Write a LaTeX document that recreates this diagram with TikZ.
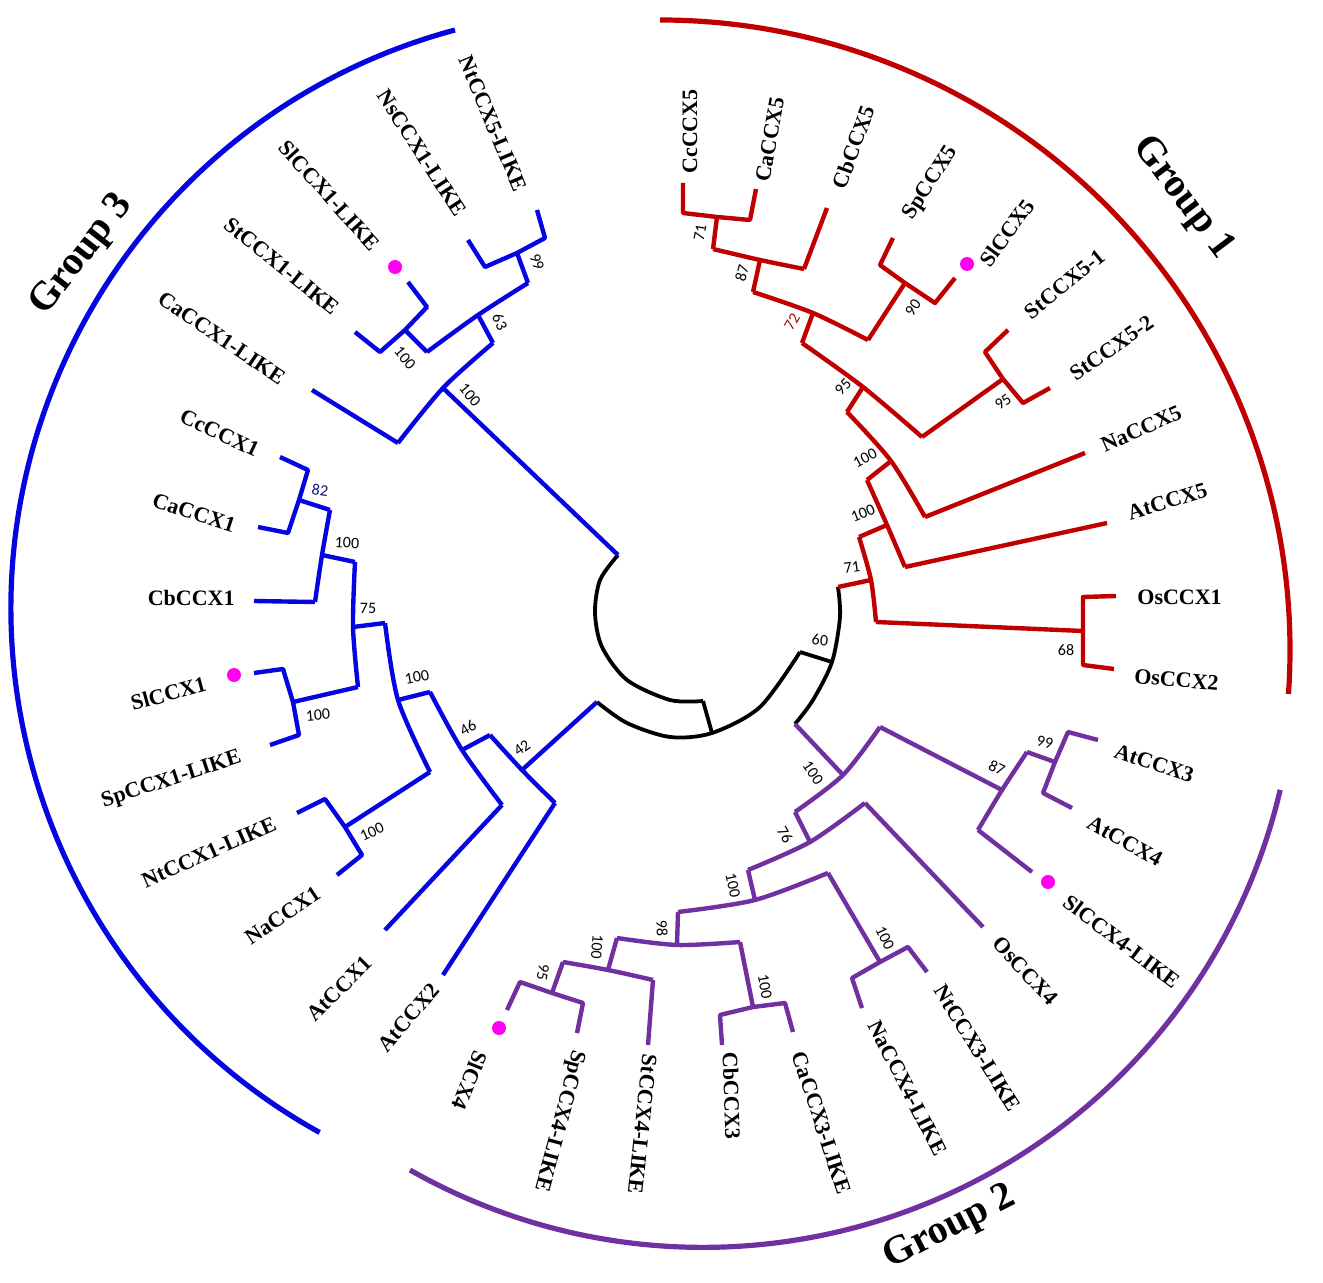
\documentclass[tikz,border=0pt]{standalone}
\usepackage{fontspec}
\setmainfont{Liberation Serif}
\newfontfamily\bootfont{Carlito}
\definecolor{cRed}{RGB}{192,0,0}
\definecolor{cBlue}{RGB}{5,5,225}
\definecolor{cPurple}{RGB}{112,48,160}
\definecolor{cPink}{RGB}{255,0,240}
\definecolor{cDarkRed}{RGB}{150,20,20}
\definecolor{cNavy}{RGB}{20,20,120}
\tikzset{
  branch/.style={line width=2.2pt, line join=round},
  rootbr/.style={branch, draw=black, line width=1.9pt},
  gone/.style={branch, draw=cRed},
  gtwo/.style={branch, draw=cPurple},
  gthree/.style={branch, draw=cBlue},
  grparc/.style={line width=2.6pt},
  tip/.style={inner sep=1pt, font=\fontsize{11}{13}\selectfont\bfseries},
  boot/.style={inner sep=0.5pt, font=\bootfont\fontsize{8}{9}\selectfont},
  grplabel/.style={inner sep=1pt, font=\fontsize{20}{24}\selectfont\bfseries},
  pinkdot/.style={circle, fill=cPink, inner sep=0pt, minimum size=7pt}
}
\begin{document}
\begin{tikzpicture}[x=0.5pt, y=-0.5pt]
\useasboundingbox (0,0) rectangle (1323,1283);

% centre of the tree
\coordinate (bTop) at (618,555);
\coordinate (bIn) at (703,701);
\coordinate (bLow) at (597,702);
\coordinate (bJoin) at (712,733);
\coordinate (bMid) at (800,652);
\coordinate (n60) at (832,662);
\coordinate (rRoot) at (838,587);
\coordinate (pRoot) at (795,724);
\draw[rootbr] plot[smooth] coordinates {(bTop) (600,580) (595,613) (602,647) (627,680) (670,700) (bIn)};
\draw[rootbr] (bIn) -- (bJoin);
\draw[rootbr] plot[smooth] coordinates {(bLow) (627,723) (670,737) (bJoin) (760,707) (bMid)};
\draw[rootbr] (bMid) -- (n60);
\draw[rootbr] plot[smooth] coordinates {(rRoot) (840,617) (n60) (813,700) (pRoot)};
\node[boot, rotate=-5] (s60) at (820,640) {60};

% Group 1
\coordinate (r71) at (871,580);   \coordinate (r71a) at (859,537);   \coordinate (r71b) at (876,622);
\coordinate (rOs) at (1083,631);  \coordinate (rOsa) at (1083,597);  \coordinate (rOsb) at (1083,665);
\coordinate (r100b) at (887,525); \coordinate (r100ba) at (867,480); \coordinate (r100bb) at (905,567);
\coordinate (r100a) at (891,461); \coordinate (r100aa) at (847,412); \coordinate (r100ab) at (925,517);
\coordinate (r95) at (863,387);   \coordinate (r95a) at (802,343);   \coordinate (r95b) at (922,437);
\coordinate (rSt) at (1003,379);  \coordinate (rSta) at (985,352);   \coordinate (rStb) at (1023,403);
\coordinate (r72) at (813,313);   \coordinate (r72a) at (753,292);   \coordinate (r72b) at (868,340);
\coordinate (r90) at (905,283);   \coordinate (r90a) at (880,265);   \coordinate (r90b) at (935,303);
\coordinate (r87) at (760,260);   \coordinate (r87a) at (713,249);   \coordinate (r87b) at (804,269);
\coordinate (r71c) at (717,217);  \coordinate (r71ca) at (683,213);  \coordinate (r71cb) at (750,220);
\coordinate (eOsCCX1) at (1116,596);  \coordinate (eOsCCX2) at (1114,669);
\coordinate (eAtCCX5) at (1107,523);  \coordinate (eNaCCX5) at (1085,453);
\coordinate (eStCCX5a) at (1008,330); \coordinate (eStCCX5b) at (1050,388);
\coordinate (eSpCCX5) at (893,238);   \coordinate (eSlCCX5) at (955,278);
\coordinate (eCbCCX5) at (827,208);
\coordinate (eCcCCX5) at (683,183);   \coordinate (eCaCCX5) at (756,189);

\draw[gone] (rRoot) -- (r71);
\draw[gone] plot[smooth] coordinates {(r71a) (r71) (r71b)};
\draw[gone] (r71b) -- (rOs);
\draw[gone] (eOsCCX1) -- (rOsa) -- (rOs) -- (rOsb) -- (eOsCCX2);
\draw[gone] (r71a) -- (r100b);
\draw[gone] plot[smooth] coordinates {(r100ba) (r100b) (r100bb)};
\draw[gone] (r100bb) -- (eAtCCX5);
\draw[gone] (r100ba) -- (r100a);
\draw[gone] plot[smooth] coordinates {(r100aa) (r100a) (r100ab)};
\draw[gone] (r100ab) -- (eNaCCX5);
\draw[gone] (r100aa) -- (r95);
\draw[gone] plot[smooth] coordinates {(r95a) (r95) (r95b)};
\draw[gone] (r95b) -- (rSt);
\draw[gone] (eStCCX5a) -- (rSta) -- (rSt) -- (rStb) -- (eStCCX5b);
\draw[gone] (r95a) -- (r72);
\draw[gone] plot[smooth] coordinates {(r72a) (r72) (r72b)};
\draw[gone] (r72b) -- (r90);
\draw[gone] (eSpCCX5) -- (r90a) -- (r90) -- (r90b) -- (eSlCCX5);
\draw[gone] (r72a) -- (r87);
\draw[gone] plot[smooth] coordinates {(r87a) (r87) (r87b)};
\draw[gone] (r87b) -- (eCbCCX5);
\draw[gone] (r87a) -- (r71c);
\draw[gone] (eCcCCX5) -- (r71ca) -- (r71c) -- (r71cb) -- (eCaCCX5);

\node[boot, rotate=80] (s71a) at (700,233) {71};
\node[boot, rotate=75] (s87a) at (742,273) {87};
\node[boot, rotate=60, text=cDarkRed] (s72) at (792,322) {72};
\node[boot, rotate=55] (s90) at (913,308) {90};
\node[boot, rotate=45] (s95a) at (843,387) {95};
\node[boot, rotate=35] (s95b) at (1003,402) {95};
\node[boot, rotate=28] (s100a) at (865,458) {100};
\node[boot, rotate=22] (s100b) at (863,513) {100};
\node[boot, rotate=8] (s71b) at (852,567) {71};
\node[boot] (s68) at (1066,650) {68};

\node[tip, anchor=west, rotate=90] (lCcCCX5) at (690,176) {CcCCX5};
\node[tip, anchor=west, rotate=80] (lCaCCX5) at (762,184) {CaCCX5};
\node[tip, anchor=west, rotate=70] (lCbCCX5) at (838,190) {CbCCX5};
\node[tip, anchor=west, rotate=57] (lSpCCX5) at (907,220) {SpCCX5};
\node[tip, anchor=west, rotate=54] (lSlCCX5) at (983,266) {SlCCX5};
\node[tip, anchor=west, rotate=39] (lStCCX5a) at (1025,316) {StCCX5-1};
\node[tip, anchor=west, rotate=35] (lStCCX5b) at (1070,377) {StCCX5-2};
\node[tip, anchor=west, rotate=24] (lNaCCX5) at (1100,447) {NaCCX5};
\node[tip, anchor=west, rotate=17] (lAtCCX5) at (1126,514) {AtCCX5};
\node[tip, anchor=west] (lOsCCX1) at (1135,597) {OsCCX1};
\node[tip, anchor=west, rotate=-5] (lOsCCX2) at (1132,676) {OsCCX2};
\node[pinkdot] (dSlCCX5) at (967,264) {};

% Group 3
\coordinate (b100) at (443,388);   \coordinate (b100a) at (398,443);  \coordinate (b100b) at (493,343);
\coordinate (b63) at (478,315);    \coordinate (b63a) at (427,352);   \coordinate (b63b) at (528,283);
\coordinate (b99) at (517,253);    \coordinate (b99a) at (485,267);   \coordinate (b99b) at (545,238);
\coordinate (b100c) at (405,330);  \coordinate (b100ca) at (380,352); \coordinate (b100cb) at (427,307);
\coordinate (b42) at (522,770);    \coordinate (b42a) at (490,735);   \coordinate (b42b) at (555,803);
\coordinate (b46) at (462,750);    \coordinate (b46a) at (430,692);   \coordinate (b46b) at (502,805);
\coordinate (b100g) at (398,700);  \coordinate (b100ga) at (385,623); \coordinate (b100gb) at (430,772);
\coordinate (b100h) at (345,827);  \coordinate (b100ha) at (325,799); \coordinate (b100hb) at (362,855);
\coordinate (b75) at (353,627);    \coordinate (b75a) at (355,562);   \coordinate (b75b) at (358,687);
\coordinate (b100i) at (293,702);  \coordinate (b100ia) at (283,669); \coordinate (b100ib) at (299,735);
\coordinate (b100j) at (322,555);  \coordinate (b100ja) at (330,510); \coordinate (b100jb) at (315,602);
\coordinate (b82) at (299,500);    \coordinate (b82a) at (308,470);   \coordinate (b82b) at (288,533);
\coordinate (eCaCCX1L) at (312,390);
\coordinate (eNsCCX1L) at (468,240); \coordinate (eNtCCX5L) at (537,210);
\coordinate (eStCCX1L) at (355,332); \coordinate (eSlCCX1L) at (408,282);
\coordinate (eAtCCX2) at (443,975);  \coordinate (eAtCCX1) at (385,930);
\coordinate (eNtCCX1L) at (297,813); \coordinate (eNaCCX1) at (337,875);
\coordinate (eSlCCX1) at (254,673);  \coordinate (eSpCCX1L) at (270,745);
\coordinate (eCbCCX1) at (254,601);
\coordinate (eCcCCX1) at (280,457);  \coordinate (eCaCCX1) at (258,527);

\draw[gthree] (bTop) -- (b100);
\draw[gthree] plot[smooth] coordinates {(b100a) (b100) (b100b)};
\draw[gthree] (b100a) -- (eCaCCX1L);
\draw[gthree] (b100b) -- (b63);
\draw[gthree] plot[smooth] coordinates {(b63a) (b63) (b63b)};
\draw[gthree] (b63b) -- (b99);
\draw[gthree] (eNsCCX1L) -- (b99a) -- (b99) -- (b99b) -- (eNtCCX5L);
\draw[gthree] (b63a) -- (b100c);
\draw[gthree] (eStCCX1L) -- (b100ca) -- (b100c) -- (b100cb) -- (eSlCCX1L);
\draw[gthree] (bLow) -- (b42);
\draw[gthree] plot[smooth] coordinates {(b42a) (b42) (b42b)};
\draw[gthree] (b42b) -- (eAtCCX2);
\draw[gthree] (b42a) -- (b46);
\draw[gthree] plot[smooth] coordinates {(b46a) (b46) (b46b)};
\draw[gthree] (b46b) -- (eAtCCX1);
\draw[gthree] (b46a) -- (b100g);
\draw[gthree] plot[smooth] coordinates {(b100ga) (b100g) (b100gb)};
\draw[gthree] (b100gb) -- (b100h);
\draw[gthree] (eNtCCX1L) -- (b100ha) -- (b100h) -- (b100hb) -- (eNaCCX1);
\draw[gthree] (b100ga) -- (b75);
\draw[gthree] plot[smooth] coordinates {(b75a) (b75) (b75b)};
\draw[gthree] (b75b) -- (b100i);
\draw[gthree] (eSlCCX1) -- (b100ia) -- (b100i) -- (b100ib) -- (eSpCCX1L);
\draw[gthree] (b75a) -- (b100j);
\draw[gthree] plot[smooth] coordinates {(b100ja) (b100j) (b100jb)};
\draw[gthree] (b100jb) -- (eCbCCX1);
\draw[gthree] (b100ja) -- (b82);
\draw[gthree] (eCcCCX1) -- (b82a) -- (b82) -- (b82b) -- (eCaCCX1);

\node[boot, rotate=-50] (s100c) at (470,395) {100};
\node[boot, rotate=-65] (s63) at (500,322) {63};
\node[boot, rotate=-70] (s99a) at (537,262) {99};
\node[boot, rotate=-50] (s100d) at (405,358) {100};
\node[boot, rotate=-8, text=cNavy] (s82) at (320,490) {82};
\node[boot, rotate=-3] (s100e) at (347,543) {100};
\node[boot] (s75) at (368,608) {75};
\node[boot, rotate=5] (s100f) at (318,715) {100};
\node[boot, rotate=10] (s100g) at (417,677) {100};
\node[boot, rotate=25] (s100h) at (372,832) {100};
\node[boot, rotate=30] (s46) at (468,728) {46};
\node[boot, rotate=35] (s42) at (522,748) {42};

\node[tip, anchor=east, rotate=-67] (lNtCCX5L) at (522,192) {NtCCX5-LIKE};
\node[tip, anchor=east, rotate=-57] (lNsCCX1L) at (463,216) {NsCCX1-LIKE};
\node[tip, anchor=east, rotate=-48] (lSlCCX1L) at (378,249) {SlCCX1-LIKE};
\node[tip, anchor=east, rotate=-39] (lStCCX1L) at (338,312) {StCCX1-LIKE};
\node[tip, anchor=east, rotate=-34] (lCaCCX1L) at (285,381) {CaCCX1-LIKE};
\node[tip, anchor=east, rotate=-25] (lCcCCX1) at (260,452) {CcCCX1};
\node[tip, anchor=east, rotate=-18] (lCaCCX1) at (237,527) {CaCCX1};
\node[tip, anchor=east] (lCbCCX1) at (237,598) {CbCCX1};
\node[tip, anchor=east, rotate=15] (lSlCCX1) at (208,683) {SlCCX1};
\node[tip, anchor=east, rotate=18] (lSpCCX1L) at (243,757) {SpCCX1-LIKE};
\node[tip, anchor=east, rotate=24] (lNtCCX1L) at (277,822) {NtCCX1-LIKE};
\node[tip, anchor=east, rotate=34] (lNaCCX1) at (320,890) {NaCCX1};
\node[tip, anchor=east, rotate=45] (lAtCCX1) at (370,958) {AtCCX1};
\node[tip, anchor=east, rotate=49] (lAtCCX2) at (437,985) {AtCCX2};
\node[pinkdot] (dSlCCX1L) at (395,267) {};
\node[pinkdot] (dSlCCX1) at (234,675) {};

% Group 2
\coordinate (p100) at (843,775);   \coordinate (p100a) at (795,812);  \coordinate (p100b) at (880,727);
\coordinate (p87) at (1002,790);   \coordinate (p87a) at (978,830);   \coordinate (p87b) at (1027,752);
\coordinate (p99) at (1055,762);   \coordinate (p99a) at (1043,793);  \coordinate (p99b) at (1068,732);
\coordinate (p76) at (810,842);    \coordinate (p76a) at (748,870);   \coordinate (p76b) at (865,803);
\coordinate (p100d) at (755,900);  \coordinate (p100da) at (678,912); \coordinate (p100db) at (828,873);
\coordinate (pNN) at (880,962);    \coordinate (pNNa) at (852,978);   \coordinate (pNNb) at (908,947);
\coordinate (p98) at (677,945);    \coordinate (p98a) at (617,938);   \coordinate (p98b) at (740,942);
\coordinate (pCC) at (753,1007);   \coordinate (pCCa) at (720,1015);  \coordinate (pCCb) at (785,1003);
\coordinate (p100f) at (608,970);  \coordinate (p100fa) at (563,962); \coordinate (p100fb) at (653,980);
\coordinate (p95) at (552,993);    \coordinate (p95a) at (520,982);   \coordinate (p95b) at (583,1003);
\coordinate (eSlCCX4L) at (1032,872);
\coordinate (eAtCCX3) at (1098,740);  \coordinate (eAtCCX4) at (1072,808);
\coordinate (eOsCCX4) at (983,927);
\coordinate (eNaCCX4L) at (862,1008); \coordinate (eNtCCX3L) at (927,972);
\coordinate (eCbCCX3) at (722,1045);  \coordinate (eCaCCX3L) at (793,1032);
\coordinate (eStCCX4L) at (648,1045);
\coordinate (eSlCX4) at (507,1010);   \coordinate (eSpCCX4L) at (577,1033);

\draw[gtwo] (pRoot) -- (p100);
\draw[gtwo] plot[smooth] coordinates {(p100a) (p100) (p100b)};
\draw[gtwo] (p100b) -- (p87);
\draw[gtwo] plot[smooth] coordinates {(p87a) (p87) (p87b)};
\draw[gtwo] (p87a) -- (eSlCCX4L);
\draw[gtwo] (p87b) -- (p99);
\draw[gtwo] (eAtCCX3) -- (p99b) -- (p99) -- (p99a) -- (eAtCCX4);
\draw[gtwo] (p100a) -- (p76);
\draw[gtwo] plot[smooth] coordinates {(p76a) (p76) (p76b)};
\draw[gtwo] (p76b) -- (eOsCCX4);
\draw[gtwo] (p76a) -- (p100d);
\draw[gtwo] plot[smooth] coordinates {(p100da) (p100d) (p100db)};
\draw[gtwo] (p100db) -- (pNN);
\draw[gtwo] (eNaCCX4L) -- (pNNa) -- (pNN) -- (pNNb) -- (eNtCCX3L);
\draw[gtwo] (p100da) -- (p98);
\draw[gtwo] plot[smooth] coordinates {(p98a) (p98) (p98b)};
\draw[gtwo] (p98b) -- (pCC);
\draw[gtwo] (eCbCCX3) -- (pCCa) -- (pCC) -- (pCCb) -- (eCaCCX3L);
\draw[gtwo] (p98a) -- (p100f);
\draw[gtwo] plot[smooth] coordinates {(p100fa) (p100f) (p100fb)};
\draw[gtwo] (p100fb) -- (eStCCX4L);
\draw[gtwo] (p100fa) -- (p95);
\draw[gtwo] (eSlCX4) -- (p95a) -- (p95) -- (p95b) -- (eSpCCX4L);

\node[boot, rotate=-55] (s100i) at (813,773) {100};
\node[boot, rotate=-25] (s87b) at (997,768) {87};
\node[boot, rotate=-12] (s99b) at (1045,742) {99};
\node[boot, rotate=-60] (s76) at (785,835) {76};
\node[boot, rotate=-78] (s100j) at (733,885) {100};
\node[boot, rotate=-88] (s98) at (662,928) {98};
\node[boot, rotate=-95] (s100k) at (597,947) {100};
\node[boot, rotate=-100] (s95c) at (543,972) {95};
\node[boot, rotate=-80] (s100l) at (765,987) {100};
\node[boot, rotate=-65] (s100m) at (885,938) {100};

\node[tip, anchor=west, rotate=-18] (lAtCCX3) at (1113,750) {AtCCX3};
\node[tip, anchor=west, rotate=-29] (lAtCCX4) at (1087,820) {AtCCX4};
\node[tip, anchor=west, rotate=-37] (lSlCCX4L) at (1064,898) {SlCCX4-LIKE};
\node[tip, anchor=west, rotate=-47] (lOsCCX4) at (995,938) {OsCCX4};
\node[tip, anchor=west, rotate=-58] (lNtCCX3L) at (938,985) {NtCCX3-LIKE};
\node[tip, anchor=west, rotate=-63] (lNaCCX4L) at (873,1020) {NaCCX4-LIKE};
\node[tip, anchor=west, rotate=-72] (lCaCCX3L) at (798,1050) {CaCCX3-LIKE};
\node[tip, anchor=west, rotate=-88] (lCbCCX3) at (730,1050) {CbCCX3};
\node[tip, anchor=west, rotate=-96] (lStCCX4L) at (650,1052) {StCCX4-LIKE};
\node[tip, anchor=west, rotate=-105] (lSpCCX4L) at (578,1048) {SpCCX4-LIKE};
\node[tip, anchor=west, rotate=-112] (lSlCX4) at (482,1050) {SlCX4};
\node[pinkdot] (dSlCCX4L) at (1048,882) {};
\node[pinkdot] (dSlCX4) at (499,1028) {};

% group arcs and titles
\coordinate (g1s) at (660,20);
\coordinate (g3s) at (455,30);
\coordinate (g2s) at (410,1170);
\draw[grparc, cRed] (g1s) arc[start angle=-90, end angle=4, radius=630];
\draw[grparc, cBlue] (g3s) arc[start angle=255, end angle=119, radius=599];
\draw[grparc, cPurple] (g2s) arc[start angle=119.6, end angle=13.2, radius=593];
\node[grplabel, rotate=-53] (gOne) at (1183,198) {Group 1};
\node[grplabel, rotate=27] (gTwo) at (950,1228) {Group 2};
\node[grplabel, rotate=52] (gThree) at (82,255) {Group 3};
\end{tikzpicture}
\end{document}
